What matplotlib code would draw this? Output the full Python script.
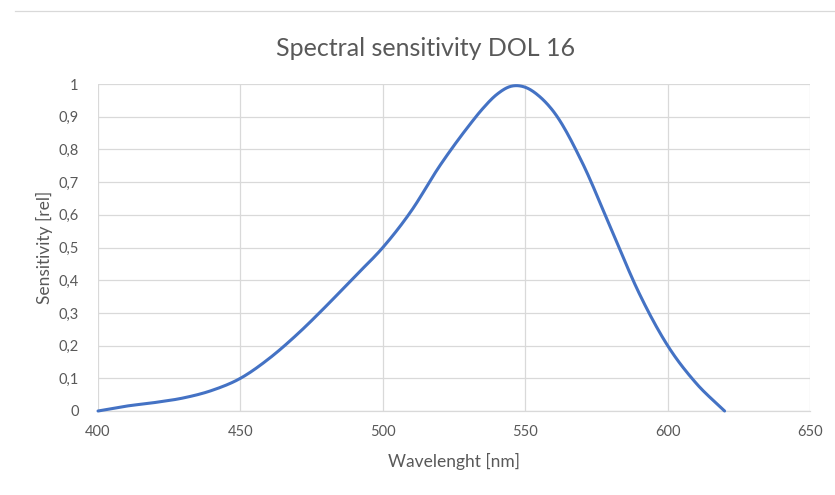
import numpy as np
import matplotlib
matplotlib.use('Agg')
import matplotlib.pyplot as plt
from matplotlib.lines import Line2D

plt.rcParams['font.family'] = ['Lato', 'DejaVu Sans']

# data
wavelength = [400, 410, 420, 430, 440, 450, 460, 470, 480, 490, 500,
              510, 520, 525, 530, 535, 540, 545, 550, 555, 560, 570, 580, 590, 600, 610, 620]
sensitivity = [0.0, 0.015, 0.026, 0.04, 0.063, 0.1, 0.16, 0.235, 0.32, 0.41, 0.5,
               0.612, 0.75, 0.812, 0.87, 0.924, 0.968, 0.993, 0.99, 0.962, 0.915,
               0.76, 0.56, 0.36, 0.2, 0.085, 0.0]
x_ticks = [400, 450, 500, 550, 600, 650]
y_ticks = [0, 0.1, 0.2, 0.3, 0.4, 0.5, 0.6, 0.7, 0.8, 0.9, 1.0]


def smooth(x, y, n=20):
    """Cubic Hermite through the points, tangents from neighbours (non-uniform aware)."""
    x = np.asarray(x, float)
    y = np.asarray(y, float)
    h = np.diff(x)
    d = np.diff(y) / h
    m = np.empty_like(y)
    m[0], m[-1] = d[0], d[-1]
    m[1:-1] = (d[1:] * h[:-1] + d[:-1] * h[1:]) / (h[:-1] + h[1:])
    xs, ys = [], []
    t = np.linspace(0, 1, n, endpoint=False)
    for i in range(len(x) - 1):
        h00 = 2 * t ** 3 - 3 * t ** 2 + 1
        h10 = t ** 3 - 2 * t ** 2 + t
        h01 = -2 * t ** 3 + 3 * t ** 2
        h11 = t ** 3 - t ** 2
        xs.extend(x[i] + t * h[i])
        ys.extend(h00 * y[i] + h10 * h[i] * m[i] + h01 * y[i + 1] + h11 * h[i] * m[i + 1])
    xs.append(x[-1])
    ys.append(y[-1])
    return np.array(xs), np.array(ys)


fig = plt.figure(figsize=(8.35, 4.95), dpi=100)
ax = fig.add_axes([0.1174, 0.1697, 0.8527, 0.6606])

sx, sy = smooth(wavelength, sensitivity)
ax.plot(sx, sy, color='#4472C4', linewidth=2.2, solid_capstyle='round', clip_on=False, zorder=3)

ax.set_xlim(400, 650)
ax.set_ylim(0, 1)
ax.set_xticks(x_ticks)
ax.set_yticks(y_ticks)
ax.set_yticklabels([('%g' % v).replace('.', ',') for v in y_ticks])
ax.grid(True, color='#D9D9D9', linewidth=0.9)
ax.set_axisbelow(True)
for s in ['top', 'right', 'left']:
    ax.spines[s].set_visible(False)
ax.spines['bottom'].set_color('#D9D9D9')
ax.spines['bottom'].set_linewidth(0.9)
ax.tick_params(length=0, labelsize=10.5, labelcolor='#595959', pad=10)
ax.tick_params(axis='y', pad=14)

ax.set_title('Spectral sensitivity DOL 16', fontsize=18, color='#595959', pad=20, x=0.46)
ax.set_xlabel('Wavelenght [nm]', fontsize=12.5, color='#595959', labelpad=10)
ax.set_ylabel('Sensitivity [rel]', fontsize=12.5, color='#595959', labelpad=4)

fig.add_artist(Line2D([15 / 835, 1], [1 - 11 / 495, 1 - 11 / 495], color='#D9D9D9', linewidth=0.9))

fig.savefig('out.png', dpi=100)
